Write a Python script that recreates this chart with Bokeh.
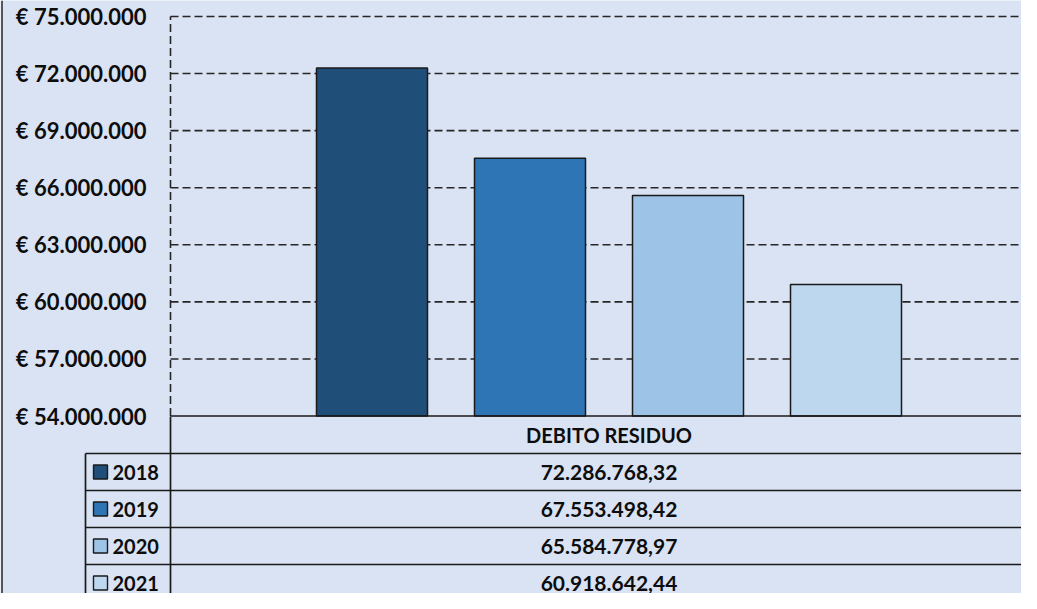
from bokeh.plotting import figure
from bokeh.models import Range1d
from bokeh.core.properties import value
from bokeh.embed import file_html
from bokeh.resources import INLINE

# ---------------- data ----------------
category = "DEBITO RESIDUO"
years = ["2018", "2019", "2020", "2021"]
debito = [72286768.32, 67553498.42, 65584778.97, 60918642.44]
value_labels = ["72.286.768,32", "67.553.498,42", "65.584.778,97", "60.918.642,44"]
tick_values = [54e6, 57e6, 60e6, 63e6, 66e6, 69e6, 72e6, 75e6]
tick_labels = ["€ 54.000.000", "€ 57.000.000", "€ 60.000.000", "€ 63.000.000",
               "€ 66.000.000", "€ 69.000.000", "€ 72.000.000", "€ 75.000.000"]
colors = ["#1F4E79", "#2E75B6", "#9DC3E6", "#BDD7EE"]

# ---------------- layout (pixels) ----------------
BG = "#DAE3F3"
INK = "#1A1A1A"
GRID = "#262626"
FONT = value("Lato")
W, H = 1021, 593
PLOT_L, CAT_W = 170, 877
PLOT_TOP, PLOT_BOT = 16, 415.5
Y_MIN, Y_MAX = tick_values[0], tick_values[-1]
ppu = (PLOT_BOT - PLOT_TOP) / (Y_MAX - Y_MIN)
SPACING, BAR_W = 158 / CAT_W, 111 / CAT_W
TABLE_TOP, ROW_H = 416, 37
HEADER_BOT = TABLE_TOP + ROW_H
LEG_L = 85

x_range = Range1d(-PLOT_L / CAT_W, (W - PLOT_L) / CAT_W)
y_range = Range1d(Y_MIN - (H - PLOT_BOT) / ppu, Y_MAX + PLOT_TOP / ppu)

p = figure(width=W, height=H, x_range=x_range, y_range=y_range,
           output_backend="svg", toolbar_location=None,
           x_axis_location=None, y_axis_location=None, min_border=0)
p.grid.visible = False
p.outline_line_color = None
p.background_fill_color = BG
p.border_fill_color = BG
p.extra_x_ranges = {"px": Range1d(0, W)}
p.extra_y_ranges = {"py": Range1d(H, 0)}

x_end = x_range.end

# chart-area border on the left
p.segment(x0=[1.5], x1=[1.5], y0=[0], y1=[H], x_range_name="px",
          y_range_name="py", line_color="#333333", line_width=1.6)

# gridlines (dashed)
grid_ticks = tick_values[1:]
p.segment(x0=[0] * len(grid_ticks), x1=[x_end] * len(grid_ticks),
          y0=grid_ticks, y1=grid_ticks, line_color=GRID, line_width=1.6,
          line_dash="8 4")
# left dashed axis line
p.segment(x0=[0], x1=[0], y0=[Y_MIN], y1=[Y_MAX], line_color=GRID,
          line_width=1.6, line_dash="8 4")

# bars
n = len(years)
xs = [0.5 + (i - (n - 1) / 2) * SPACING for i in range(n)]
p.vbar(x=xs, top=debito, bottom=Y_MIN, width=BAR_W, fill_color=colors,
       line_color=INK, line_width=1.5)

# baseline
p.segment(x0=[0], x1=[x_end], y0=[Y_MIN], y1=[Y_MIN], line_color=INK,
          line_width=1.7)

# tick labels
p.text(x=[146] * len(tick_values), y=tick_values, text=tick_labels,
       x_range_name="px", text_align="right", text_baseline="middle",
       text_font=FONT, text_font_style="bold", text_font_size="22px",
       text_color="#0d0d0d")

# ---------------- data table ----------------
row_lines = [HEADER_BOT + i * ROW_H for i in range(n)]
p.segment(x0=[LEG_L] * n, x1=[W] * n, y0=row_lines, y1=row_lines,
          x_range_name="px", y_range_name="py", line_color=INK, line_width=1.7)
p.segment(x0=[PLOT_L, LEG_L], x1=[PLOT_L, LEG_L], y0=[TABLE_TOP, HEADER_BOT],
          y1=[H, H], x_range_name="px", y_range_name="py",
          line_color=INK, line_width=1.7)

row_centers = [HEADER_BOT + (i + 0.5) * ROW_H for i in range(n)]
p.text(x=[0.5], y=[(TABLE_TOP + HEADER_BOT) / 2], text=[category],
       y_range_name="py", text_align="center", text_baseline="middle",
       text_font=FONT, text_font_style="bold", text_font_size="20px",
       text_color="#0d0d0d")
p.text(x=[0.5] * n, y=row_centers, text=value_labels, y_range_name="py",
       text_align="center", text_baseline="middle", text_font=FONT,
       text_font_style="bold", text_font_size="21px", text_color="#0d0d0d")

# legend keys + years
p.rect(x=[100] * n, y=row_centers, width=14, height=14, fill_color=colors,
       line_color=INK, line_width=1.4, x_range_name="px", y_range_name="py")
p.text(x=[112] * n, y=row_centers, text=years, x_range_name="px",
       y_range_name="py", text_align="left", text_baseline="middle",
       text_font=FONT, text_font_style="bold", text_font_size="20px",
       text_color="#0d0d0d")

open("out.html", "w").write(file_html(p, INLINE))
